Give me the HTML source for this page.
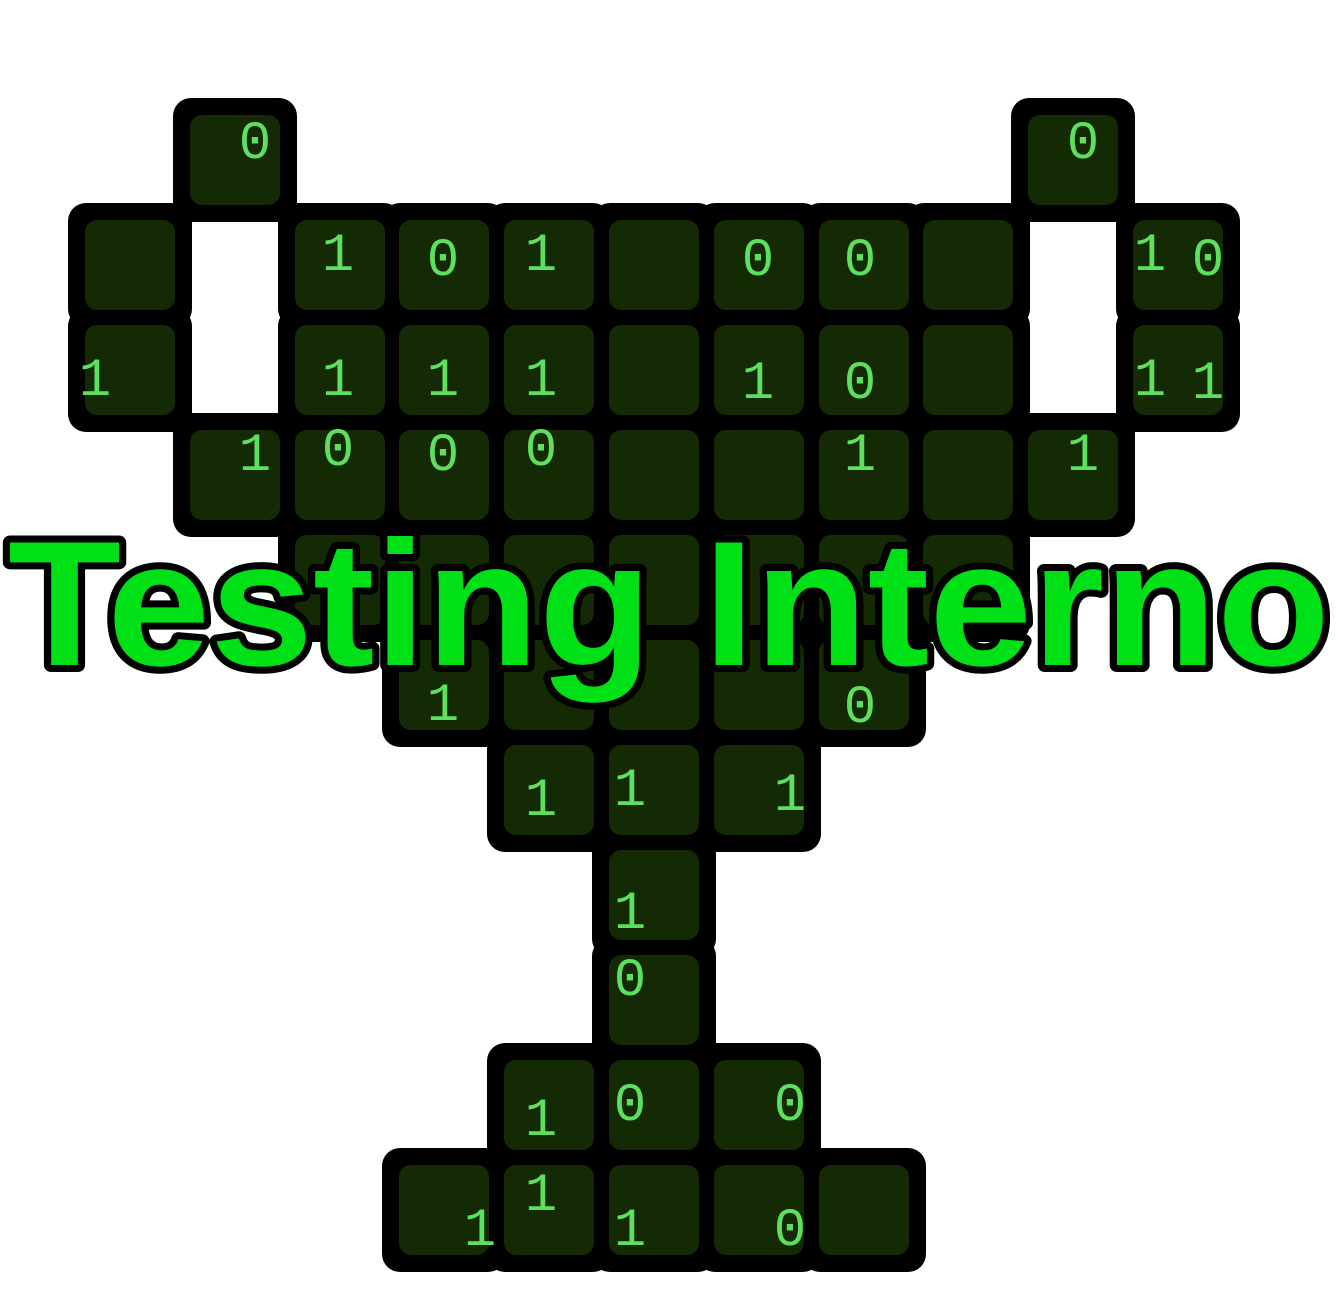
<!DOCTYPE html>
<html><head><meta charset="utf-8"><style>
html,body{margin:0;padding:0;background:#fff;}
svg{display:block}
.b{fill:#000}
.t{fill:#132a04}
.d{font-family:"Liberation Mono",monospace;font-size:54px;fill:#5ee05e;text-anchor:middle;}
</style></head><body>
<svg width="1338" height="1314" viewBox="0 0 1338 1314">
<defs>
<rect id="B" x="-17" y="-17" width="124" height="124" rx="18"/>
<rect id="T" x="0" y="0" width="90" height="90" rx="12"/>
</defs>
<g class="b">
<use href="#B" x="190" y="115"/><use href="#B" x="1028" y="115"/>
<use href="#B" x="85" y="220"/><use href="#B" x="295" y="220"/><use href="#B" x="399" y="220"/><use href="#B" x="504" y="220"/><use href="#B" x="609" y="220"/><use href="#B" x="714" y="220"/><use href="#B" x="819" y="220"/><use href="#B" x="923" y="220"/><use href="#B" x="1133" y="220"/>
<use href="#B" x="85" y="325"/><use href="#B" x="295" y="325"/><use href="#B" x="399" y="325"/><use href="#B" x="504" y="325"/><use href="#B" x="609" y="325"/><use href="#B" x="714" y="325"/><use href="#B" x="819" y="325"/><use href="#B" x="923" y="325"/><use href="#B" x="1133" y="325"/>
<use href="#B" x="190" y="430"/><use href="#B" x="295" y="430"/><use href="#B" x="399" y="430"/><use href="#B" x="504" y="430"/><use href="#B" x="609" y="430"/><use href="#B" x="714" y="430"/><use href="#B" x="819" y="430"/><use href="#B" x="923" y="430"/><use href="#B" x="1028" y="430"/>
<use href="#B" x="295" y="535"/><use href="#B" x="399" y="535"/><use href="#B" x="504" y="535"/><use href="#B" x="609" y="535"/><use href="#B" x="714" y="535"/><use href="#B" x="819" y="535"/><use href="#B" x="923" y="535"/>
<use href="#B" x="399" y="640"/><use href="#B" x="504" y="640"/><use href="#B" x="609" y="640"/><use href="#B" x="714" y="640"/><use href="#B" x="819" y="640"/>
<use href="#B" x="504" y="745"/><use href="#B" x="609" y="745"/><use href="#B" x="714" y="745"/>
<use href="#B" x="609" y="850"/><use href="#B" x="609" y="955"/>
<use href="#B" x="504" y="1060"/><use href="#B" x="609" y="1060"/><use href="#B" x="714" y="1060"/>
<use href="#B" x="399" y="1165"/><use href="#B" x="504" y="1165"/><use href="#B" x="609" y="1165"/><use href="#B" x="714" y="1165"/><use href="#B" x="819" y="1165"/>
</g>
<g class="t">
<use href="#T" x="190" y="115"/><use href="#T" x="1028" y="115"/>
<use href="#T" x="85" y="220"/><use href="#T" x="295" y="220"/><use href="#T" x="399" y="220"/><use href="#T" x="504" y="220"/><use href="#T" x="609" y="220"/><use href="#T" x="714" y="220"/><use href="#T" x="819" y="220"/><use href="#T" x="923" y="220"/><use href="#T" x="1133" y="220"/>
<use href="#T" x="85" y="325"/><use href="#T" x="295" y="325"/><use href="#T" x="399" y="325"/><use href="#T" x="504" y="325"/><use href="#T" x="609" y="325"/><use href="#T" x="714" y="325"/><use href="#T" x="819" y="325"/><use href="#T" x="923" y="325"/><use href="#T" x="1133" y="325"/>
<use href="#T" x="190" y="430"/><use href="#T" x="295" y="430"/><use href="#T" x="399" y="430"/><use href="#T" x="504" y="430"/><use href="#T" x="609" y="430"/><use href="#T" x="714" y="430"/><use href="#T" x="819" y="430"/><use href="#T" x="923" y="430"/><use href="#T" x="1028" y="430"/>
<use href="#T" x="295" y="535"/><use href="#T" x="399" y="535"/><use href="#T" x="504" y="535"/><use href="#T" x="609" y="535"/><use href="#T" x="714" y="535"/><use href="#T" x="819" y="535"/><use href="#T" x="923" y="535"/>
<use href="#T" x="399" y="640"/><use href="#T" x="504" y="640"/><use href="#T" x="609" y="640"/><use href="#T" x="714" y="640"/><use href="#T" x="819" y="640"/>
<use href="#T" x="504" y="745"/><use href="#T" x="609" y="745"/><use href="#T" x="714" y="745"/>
<use href="#T" x="609" y="850"/><use href="#T" x="609" y="955"/>
<use href="#T" x="504" y="1060"/><use href="#T" x="609" y="1060"/><use href="#T" x="714" y="1060"/>
<use href="#T" x="399" y="1165"/><use href="#T" x="504" y="1165"/><use href="#T" x="609" y="1165"/><use href="#T" x="714" y="1165"/><use href="#T" x="819" y="1165"/>
</g>
<g class="d">
<text x="255" y="158">0</text><text x="1083" y="158">0</text>
<text x="338" y="270">1</text><text x="443" y="275">0</text><text x="541" y="270">1</text><text x="758" y="275">0</text><text x="860" y="275">0</text><text x="1150" y="270">1</text><text x="1208" y="275">0</text>
<text x="338" y="395">1</text><text x="443" y="395">1</text><text x="541" y="395">1</text><text x="758" y="398">1</text><text x="860" y="398">0</text><text x="1150" y="395">1</text><text x="1208" y="398">1</text><text x="95" y="395">1</text>
<text x="255" y="470">1</text><text x="338" y="465">0</text><text x="443" y="470">0</text><text x="541" y="465">0</text><text x="860" y="470">1</text><text x="1083" y="470">1</text>
<text x="443" y="720">1</text><text x="860" y="722">0</text>
<text x="541" y="815">1</text><text x="630" y="805">1</text><text x="790" y="810">1</text>
<text x="630" y="928">1</text><text x="630" y="995">0</text>
<text x="541" y="1135">1</text><text x="630" y="1120">0</text><text x="790" y="1120">0</text>
<text x="480" y="1245">1</text><text x="541" y="1210">1</text><text x="630" y="1245">1</text><text x="790" y="1245">0</text>
</g>
<text x="8" y="665" textLength="1322" lengthAdjust="spacingAndGlyphs" style="font-family:'Liberation Sans',sans-serif;font-weight:bold;font-size:178px;fill:#00e016;stroke:#000;stroke-width:14;stroke-linejoin:round;paint-order:stroke">Testing Interno</text>
</svg>
</body></html>
